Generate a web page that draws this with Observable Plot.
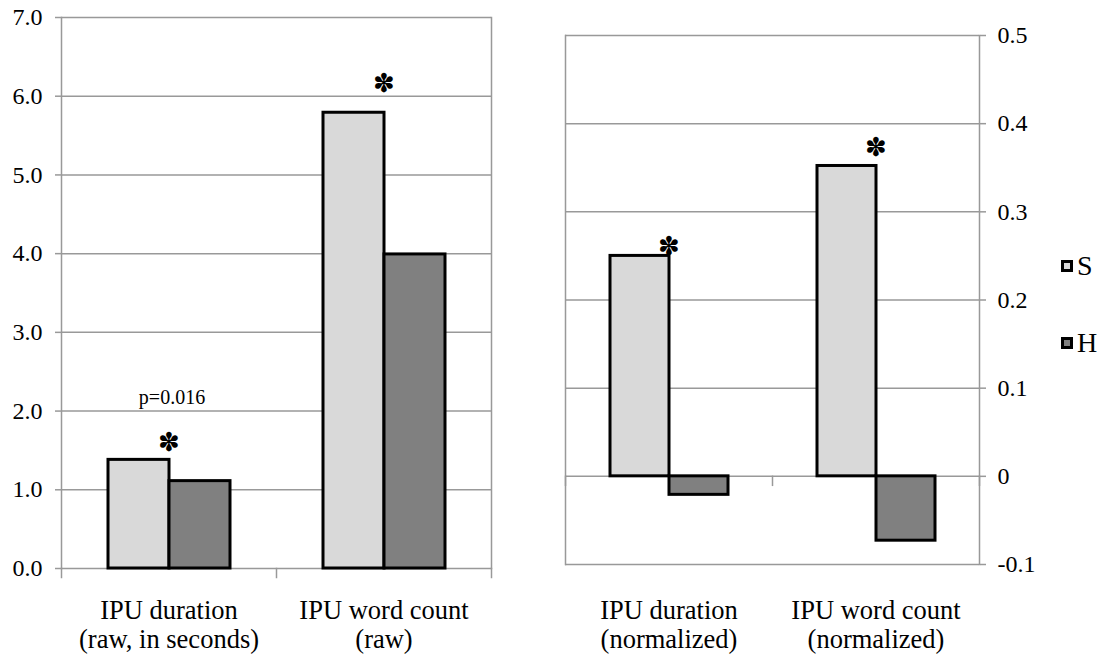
<!DOCTYPE html>
<html><head><meta charset="utf-8">
<script src="https://cdn.jsdelivr.net/npm/d3@7"></script>
<script src="https://cdn.jsdelivr.net/npm/@observablehq/plot@0.6"></script>
<style>
body{margin:0;background:#fff;}
#wrap{position:relative;width:1106px;height:654px;font-family:"Liberation Serif","Times New Roman",serif !important;}
#wrap svg, #wrap svg g, #wrap svg text{font-family:"Liberation Serif","Times New Roman",serif !important;}
#left,#right{position:absolute;top:0;}
#left{left:0px;} #right{left:520px;}
.leg{position:absolute;left:1061px;height:30px;display:flex;align-items:center;font-size:28px;color:#000;font-family:"Liberation Serif","Times New Roman",serif !important;}
.sw{width:6px;height:6px;border:3px solid #000;margin-right:4px;}
</style></head><body>
<div id="wrap"><div id="left"></div><div id="right"></div><div id="legend"></div></div>
<script>
// ---- data ----
const series = ["S", "H"];
const seriesColors = ["#d9d9d9", "#808080"];

const rawCategories = ["IPU duration\n(raw, in seconds)", "IPU word count\n(raw)"];
const rawS = [1.38, 5.79];
const rawH = [1.11, 3.99];
const rawTicks = [0, 1, 2, 3, 4, 5, 6, 7];
const rawStarY = [1.6, 6.16];          // significance marks (value units)
const rawNoteText = ["p=0.016"];
const rawNoteY = [2.17];

const normCategories = ["IPU duration\n(normalized)", "IPU word count\n(normalized)"];
const normS = [0.25, 0.352];
const normH = [-0.021, -0.073];
const normTicks = [-0.1, 0, 0.1, 0.2, 0.3, 0.4, 0.5];
const normStarY = [0.261, 0.373];

// ---- drawing ----
const serif = '"Liberation Serif","Times New Roman",serif';
const grey = "#999";

function panel(o) {
  const rows = o.cats.flatMap((c, i) => [
    {cat: c, series: "S", value: o.S[i]},
    {cat: c, series: "H", value: o.H[i]}
  ]);
  const stars = o.cats.map((c, i) => ({cat: c, y: o.starY[i]}));
  const notes = (o.noteText || []).map((t, i) => ({cat: o.cats[i], y: o.noteY[i], text: t}));
  const innerH = o.height - o.mt - o.mb;
  const lo = o.ticks[0], hi = o.ticks[o.ticks.length - 1];
  const zeroOff = innerH * (hi - 0) / (hi - lo);
  const tickLen = 9;
  const sepOpts = {insetTop: zeroOff, insetBottom: innerH - zeroOff - tickLen, stroke: grey, strokeWidth: 1.5};
  return Plot.plot({
    width: o.width, height: o.height,
    marginTop: o.mt, marginBottom: o.mb, marginLeft: o.ml, marginRight: o.mr,
    style: "background: transparent; color: #000; font-family: " + serif + ";",
    fx: {domain: o.cats, padding: 0, axis: null},
    x: {domain: series, paddingInner: 0, paddingOuter: 0.75, axis: null},
    y: {domain: [lo, hi], axis: null},
    color: {domain: series, range: seriesColors},
    marks: [
      Plot.gridY(o.ticks, {stroke: grey, strokeOpacity: 1, strokeWidth: 1.5}),
      Plot.frame({anchor: "left", facetAnchor: "left", stroke: grey, strokeWidth: 1.5}),
      Plot.frame({anchor: "right", facetAnchor: "right", stroke: grey, strokeWidth: 1.5}),
      Plot.frame({anchor: "left", ...sepOpts}),
      Plot.frame({anchor: "right", facetAnchor: "right", ...sepOpts}),
      Plot.barY(rows, {fx: "cat", x: "series", y: "value", fill: "series", stroke: "#000", strokeWidth: 3}),
      Plot.text(stars, {fx: "cat", y: "y", text: () => "\u273D", fontSize: 26, fill: "#000"}),
      Plot.text(notes, {fx: "cat", y: "y", text: "text", fontSize: 20, fill: "#000", dx: 3}),
      Plot.axisY(o.ticks, {anchor: o.yAnchor, tickFormat: o.fmt, tickSize: 6, tickPadding: o.yPad,
        fontSize: 24, stroke: grey, strokeWidth: 1.5, fill: "#000", label: null}),
      Plot.axisFx({anchor: "bottom", tickSize: 0, tickPadding: o.labelPad, fontSize: 26.5,
        lineHeight: 1.12, fill: "#000", label: null})
    ]
  });
}

document.getElementById("left").append(panel({
  cats: rawCategories, S: rawS, H: rawH, ticks: rawTicks, starY: rawStarY,
  noteText: rawNoteText, noteY: rawNoteY,
  fmt: d3.format(".1f"), yAnchor: "left", yPad: 13, labelPad: 29,
  width: 520, height: 654, mt: 17, mb: 86, ml: 61, mr: 29
}));

document.getElementById("right").append(panel({
  cats: normCategories, S: normS, H: normH, ticks: normTicks, starY: normStarY,
  fmt: d => d === 0 ? "0" : d.toFixed(1), yAnchor: "right", yPad: 12, labelPad: 33,
  width: 525, height: 654, mt: 35, mb: 90, ml: 45, mr: 66
}));

const legend = document.getElementById("legend");
const legendTops = [251, 328];
series.forEach((s, i) => {
  const row = document.createElement("div");
  row.className = "leg";
  row.style.top = legendTops[i] + "px";
  const sw = document.createElement("div");
  sw.className = "sw";
  sw.style.background = seriesColors[i];
  row.append(sw, document.createTextNode(s));
  legend.append(row);
});
</script>
</body></html>
